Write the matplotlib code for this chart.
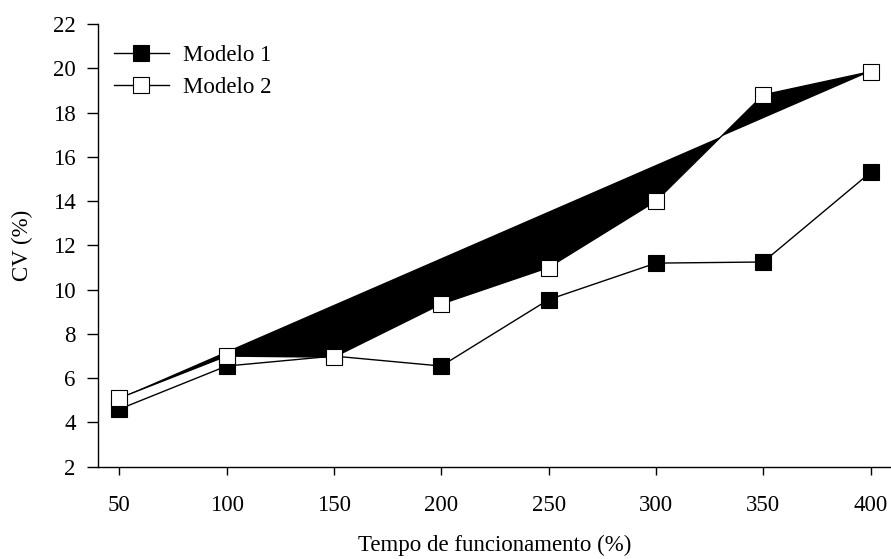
import numpy as np
import matplotlib.pyplot as plt

plt.rcParams['font.family'] = ['Liberation Serif', 'DejaVu Serif']

tempo = [50, 100, 150, 200, 250, 300, 350, 400]
modelo1 = [4.6, 6.55, 7.0, 6.55, 9.55, 11.2, 11.25, 15.3]
modelo2 = [5.1, 7.0, 6.95, 9.35, 11.0, 14.0, 18.8, 19.85]

fig = plt.figure(figsize=(8.91, 5.59), dpi=100)
ax = fig.add_axes([0.1097, 0.165, 0.8903, 0.792])

# area preenchida (artefato da planilha original)
ax.fill(tempo, modelo2, color='black', lw=0, zorder=1)

ax.plot(tempo, modelo1, color='black', lw=1, marker='s', ms=11.5,
        mfc='black', mec='black', mew=0.8, label='Modelo 1', zorder=2)
ax.plot(tempo, modelo2, color='black', lw=1, marker='s', ms=11.5,
        mfc='white', mec='black', mew=0.8, label='Modelo 2', zorder=3)

ax.set_xlim(40, 409.5)
ax.set_ylim(2, 22)
ax.set_xticks(tempo)
ax.set_yticks(np.arange(2, 23, 2))

ax.spines['top'].set_visible(False)
ax.spines['right'].set_visible(False)
ax.spines['left'].set_linewidth(1)
ax.spines['bottom'].set_linewidth(1)
ax.tick_params(axis='y', direction='out', length=8, width=1, labelsize=16.5, pad=8)
ax.tick_params(axis='x', direction='out', length=6, width=1, labelsize=16.5, pad=14)

ax.set_xlabel('Tempo de funcionamento (%)', fontsize=16.5, labelpad=14)
ax.set_ylabel('CV (%)', fontsize=16.5, labelpad=14)

ax.legend(loc='upper left', bbox_to_anchor=(0.0, 0.99), frameon=False,
          fontsize=16.5, handlelength=2.4, labelspacing=0.5, handletextpad=0.6,
          borderaxespad=0.3)

fig.savefig('out.png', dpi=100)
